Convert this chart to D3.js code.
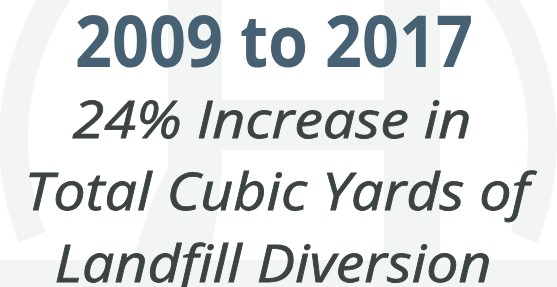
<!DOCTYPE html>
<html>
<head>
<meta charset="utf-8">
<script src="https://cdn.jsdelivr.net/npm/d3@7"></script>
<style>
  html, body { margin: 0; padding: 0; background: #fff; }
  svg { display: block; }
</style>
</head>
<body>
<div id="chart"></div>
<script>
const startYear = 2009;
const endYear = 2017;
const increasePct = [24];
const headlineLines = [`${startYear} to ${endYear}`];
const bodyLines = [
  `${increasePct[0]}% Increase in`,
  "Total Cubic Yards of",
  "Landfill Diversion"
];
// target widths of each text line
const headlineWidths = [398];
const bodyWidths = [399, 505, 437];

const config = { div: "#chart", width: 557, height: 287 };

const svg = d3.select(config.div)
  .append("svg")
  .attr("width", config.width)
  .attr("height", config.height);

// faint logo watermark behind the text
const mark = svg.append("g").attr("fill", "#f3f5f4");

mark.append("path")
  .attr("transform", "translate(278,140)")
  .attr("d", d3.arc()
    .innerRadius(250)
    .outerRadius(279)
    .startAngle(-Math.PI * 0.62)
    .endAngle(Math.PI * 0.62)());

mark.append("path")
  .attr("d", "M168,0 L222,0 L222,170 Q216,240 201,287 L128,287 Q140,220 168,168 Z");

mark.append("rect")
  .attr("x", 384).attr("y", 0)
  .attr("width", 56).attr("height", 287);

mark.append("rect")
  .attr("x", 222).attr("y", 100)
  .attr("width", 162).attr("height", 50);

mark.append("rect")
  .attr("x", 0).attr("y", 260)
  .attr("width", config.width).attr("height", 27);

// baseline positions
const yHead = d3.scalePoint().domain(d3.range(headlineLines.length)).range([67, 67]);
const yBody = d3.scaleLinear().domain([0, 1]).range([138, 210]);

// squeeze/stretch a line horizontally so it covers the measured width
function fitWidth(sel, widths, xs, yScale) {
  sel.each(function (d, i) {
    const w = this.getComputedTextLength();
    const sx = widths[i] / w;
    d3.select(this)
      .attr("x", 0).attr("y", 0)
      .attr("transform", `translate(${xs[i]},${yScale(i)}) scale(${sx},1)`);
  });
}

svg.selectAll("text.head")
  .data(headlineLines)
  .join("text")
  .attr("class", "head")
  .attr("text-anchor", "middle")
  .attr("font-family", "'Open Sans', sans-serif")
  .attr("font-weight", 700)
  .attr("font-size", 72)
  .attr("fill", "#466173")
  .text(d => d)
  .call(fitWidth, headlineWidths, [274], yHead);

svg.selectAll("text.body")
  .data(bodyLines)
  .join("text")
  .attr("class", "body")
  .attr("text-anchor", "middle")
  .attr("font-family", "'Open Sans', sans-serif")
  .attr("font-style", "italic")
  .attr("font-size", 52)
  .attr("fill", "#3b4442")
  .attr("stroke", "#3b4442")
  .attr("stroke-width", 0.8)
  .text(d => d)
  .call(fitWidth, bodyWidths, [272, 277, 273], yBody);
</script>
</body>
</html>
